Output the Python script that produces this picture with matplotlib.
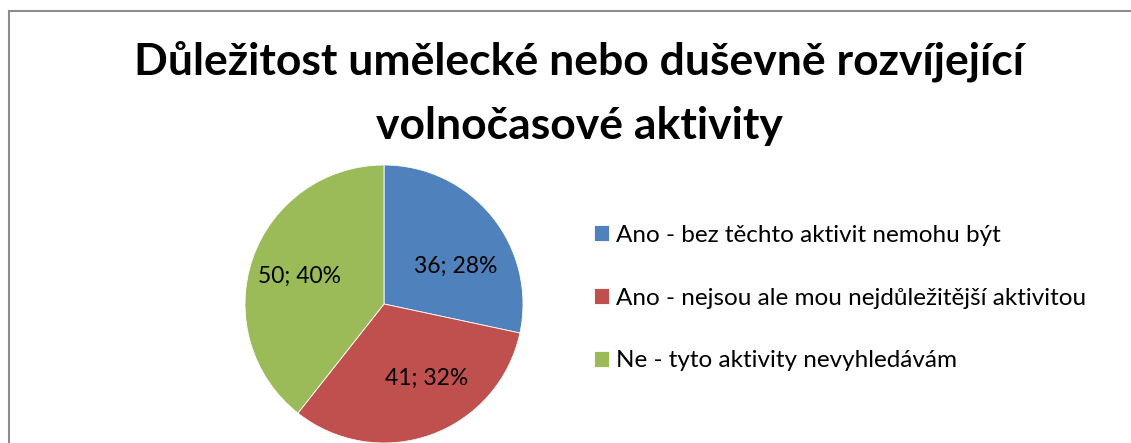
import matplotlib
matplotlib.use("Agg")
import matplotlib.pyplot as plt
from matplotlib.patches import Rectangle
import numpy as np

# data
categories = ["Ano - bez těchto aktivit nemohu být",
              "Ano - nejsou ale mou nejdůležitější aktivitou",
              "Ne - tyto aktivity nevyhledávám"]
counts = [36, 41, 50]
percents = [28, 32, 40]  # as printed on the chart
colors = ["#4F81BD", "#C0504D", "#9BBB59"]
title_lines = ["Důležitost umělecké nebo duševně rozvíjející",
               "volnočasové aktivity"]

plt.rcParams['font.family'] = ['Lato', 'DejaVu Sans']

W, H = 1131, 443
fig = plt.figure(figsize=(W / 100, H / 100), dpi=100)

# chart frame (cut by image edges on right and bottom)
fig.patches.append(Rectangle((8.5 / W, -0.1), 1.2, (H - 11.5) / H + 0.1,
                             transform=fig.transFigure, fill=False,
                             edgecolor="#8c8c8c", linewidth=1.5))

# title, two lines
for i, line in enumerate(title_lines):
    fig.text(579 / W, (H - 75 - 64 * i) / H, line, ha="center", va="baseline",
             fontsize=32, fontweight="bold")

# pie
r = 139
cx, cy = 384, H - 304
ax = fig.add_axes([(cx - r) / W, (cy - r) / H, 2 * r / W, 2 * r / H])

wedges = ax.pie(counts, colors=colors, startangle=90, counterclock=False,
                radius=1, wedgeprops=dict(edgecolor="white", linewidth=0.6))[0]
ax.set_xlim(-1, 1)
ax.set_ylim(-1, 1)
ax.set_aspect("equal")

# data labels, Excel best-fit style
nudge = [-11, 10, 1]  # degrees
dist = [0.58, 0.62, 0.64]
for w, c, p, dn, d in zip(wedges, counts, percents, nudge, dist):
    ang = np.deg2rad((w.theta1 + w.theta2) / 2 + dn)
    ax.text(d * np.cos(ang), d * np.sin(ang), "%d; %d%%" % (c, p),
            ha="center", va="center", fontsize=16.5)

# legend
leg = fig.legend(wedges, categories, loc="upper left",
                 bbox_to_anchor=(584 / W, (H - 215) / H), frameon=False,
                 fontsize=17.5, handlelength=0.62, handleheight=0.62,
                 handletextpad=0.3, labelspacing=1.72, borderaxespad=0)

fig.savefig("out.png", dpi=100)
